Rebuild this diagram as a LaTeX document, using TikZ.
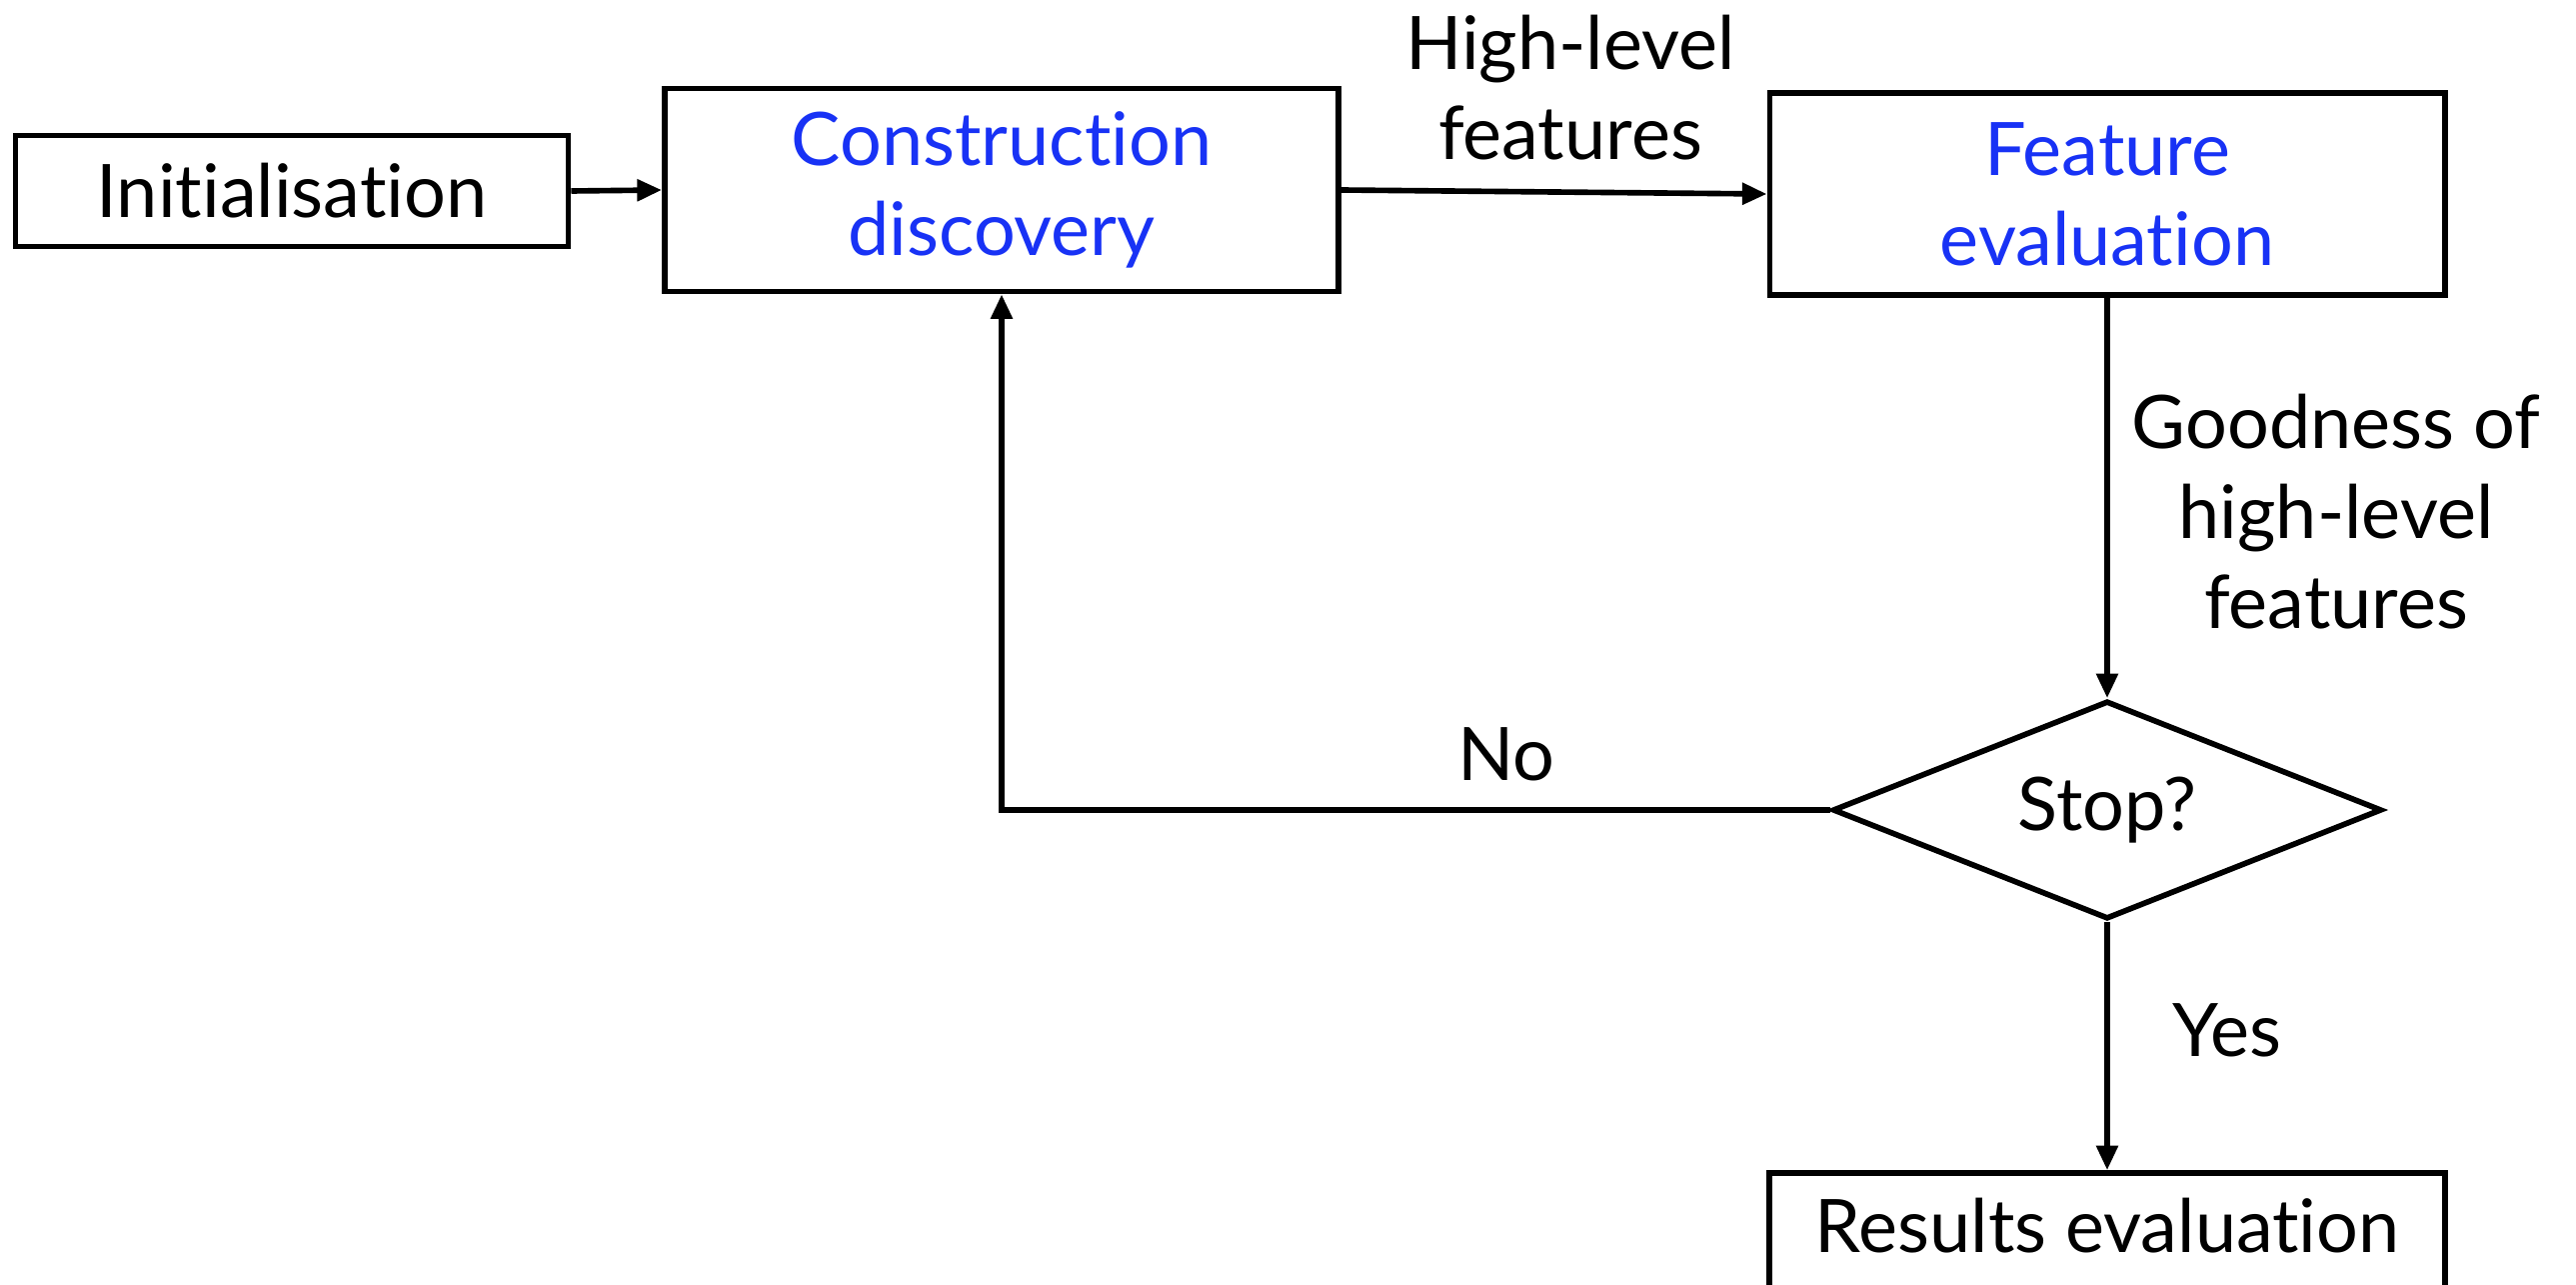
\documentclass[tikz,border=0pt]{standalone}
\usepackage{fontspec}
\setmainfont{Lato}[Ligatures=NoCommon]
\usetikzlibrary{arrows.meta,shapes.geometric}
\definecolor{procB}{RGB}{24,50,245}

\begin{document}
\begin{tikzpicture}[x=0.01cm,y=-0.01cm,line width=1.6pt,>={Triangle[length=7pt,width=6pt]},
  box/.style={draw,rectangle,inner sep=0pt,align=center,font=\fontsize{21}{25.6}\selectfont},
  lbl/.style={align=center,inner sep=0pt,font=\fontsize{21}{25.6}\selectfont}]
\useasboundingbox (0,0) rectangle (2577,1285);
% process boxes
\node[box,minimum width=5.53cm,minimum height=1.11cm] (init) at (292,191) {Initialisation};
\node[box,minimum width=6.74cm,minimum height=2.03cm,text=procB] (disc) at (1002,190) {Construction\\discovery};
\node[box,minimum width=6.75cm,minimum height=2.02cm,text=procB] (feval) at (2108,194) {Feature\\evaluation};
\node[box,shape=diamond,aspect=2.5,minimum width=5.49cm,minimum height=2.18cm] (stop) at (2108,810) {Stop?};
\node[box,minimum width=6.76cm,minimum height=1.3cm,text depth=0.26cm] (res) at (2108,1238) {Results evaluation};
% connectors
\draw[->] (init.east) -- (disc.west);
\draw[->] (disc.east) -- (feval.west);
\draw[->] (feval.south) -- (stop.north);
\draw[->] (stop.south) -- (res.north);
\draw[->] (stop.west) -| (disc.south);
% labels
\node[lbl] (hl) at (1571,88) {High-level\\features};
\node[lbl] (good) at (2337,512) {Goodness of\\high-level\\features};
\node[lbl] (no) at (1507,754) {No};
\node[lbl] (yes) at (2228,1030) {Yes};
\end{tikzpicture}
\end{document}
